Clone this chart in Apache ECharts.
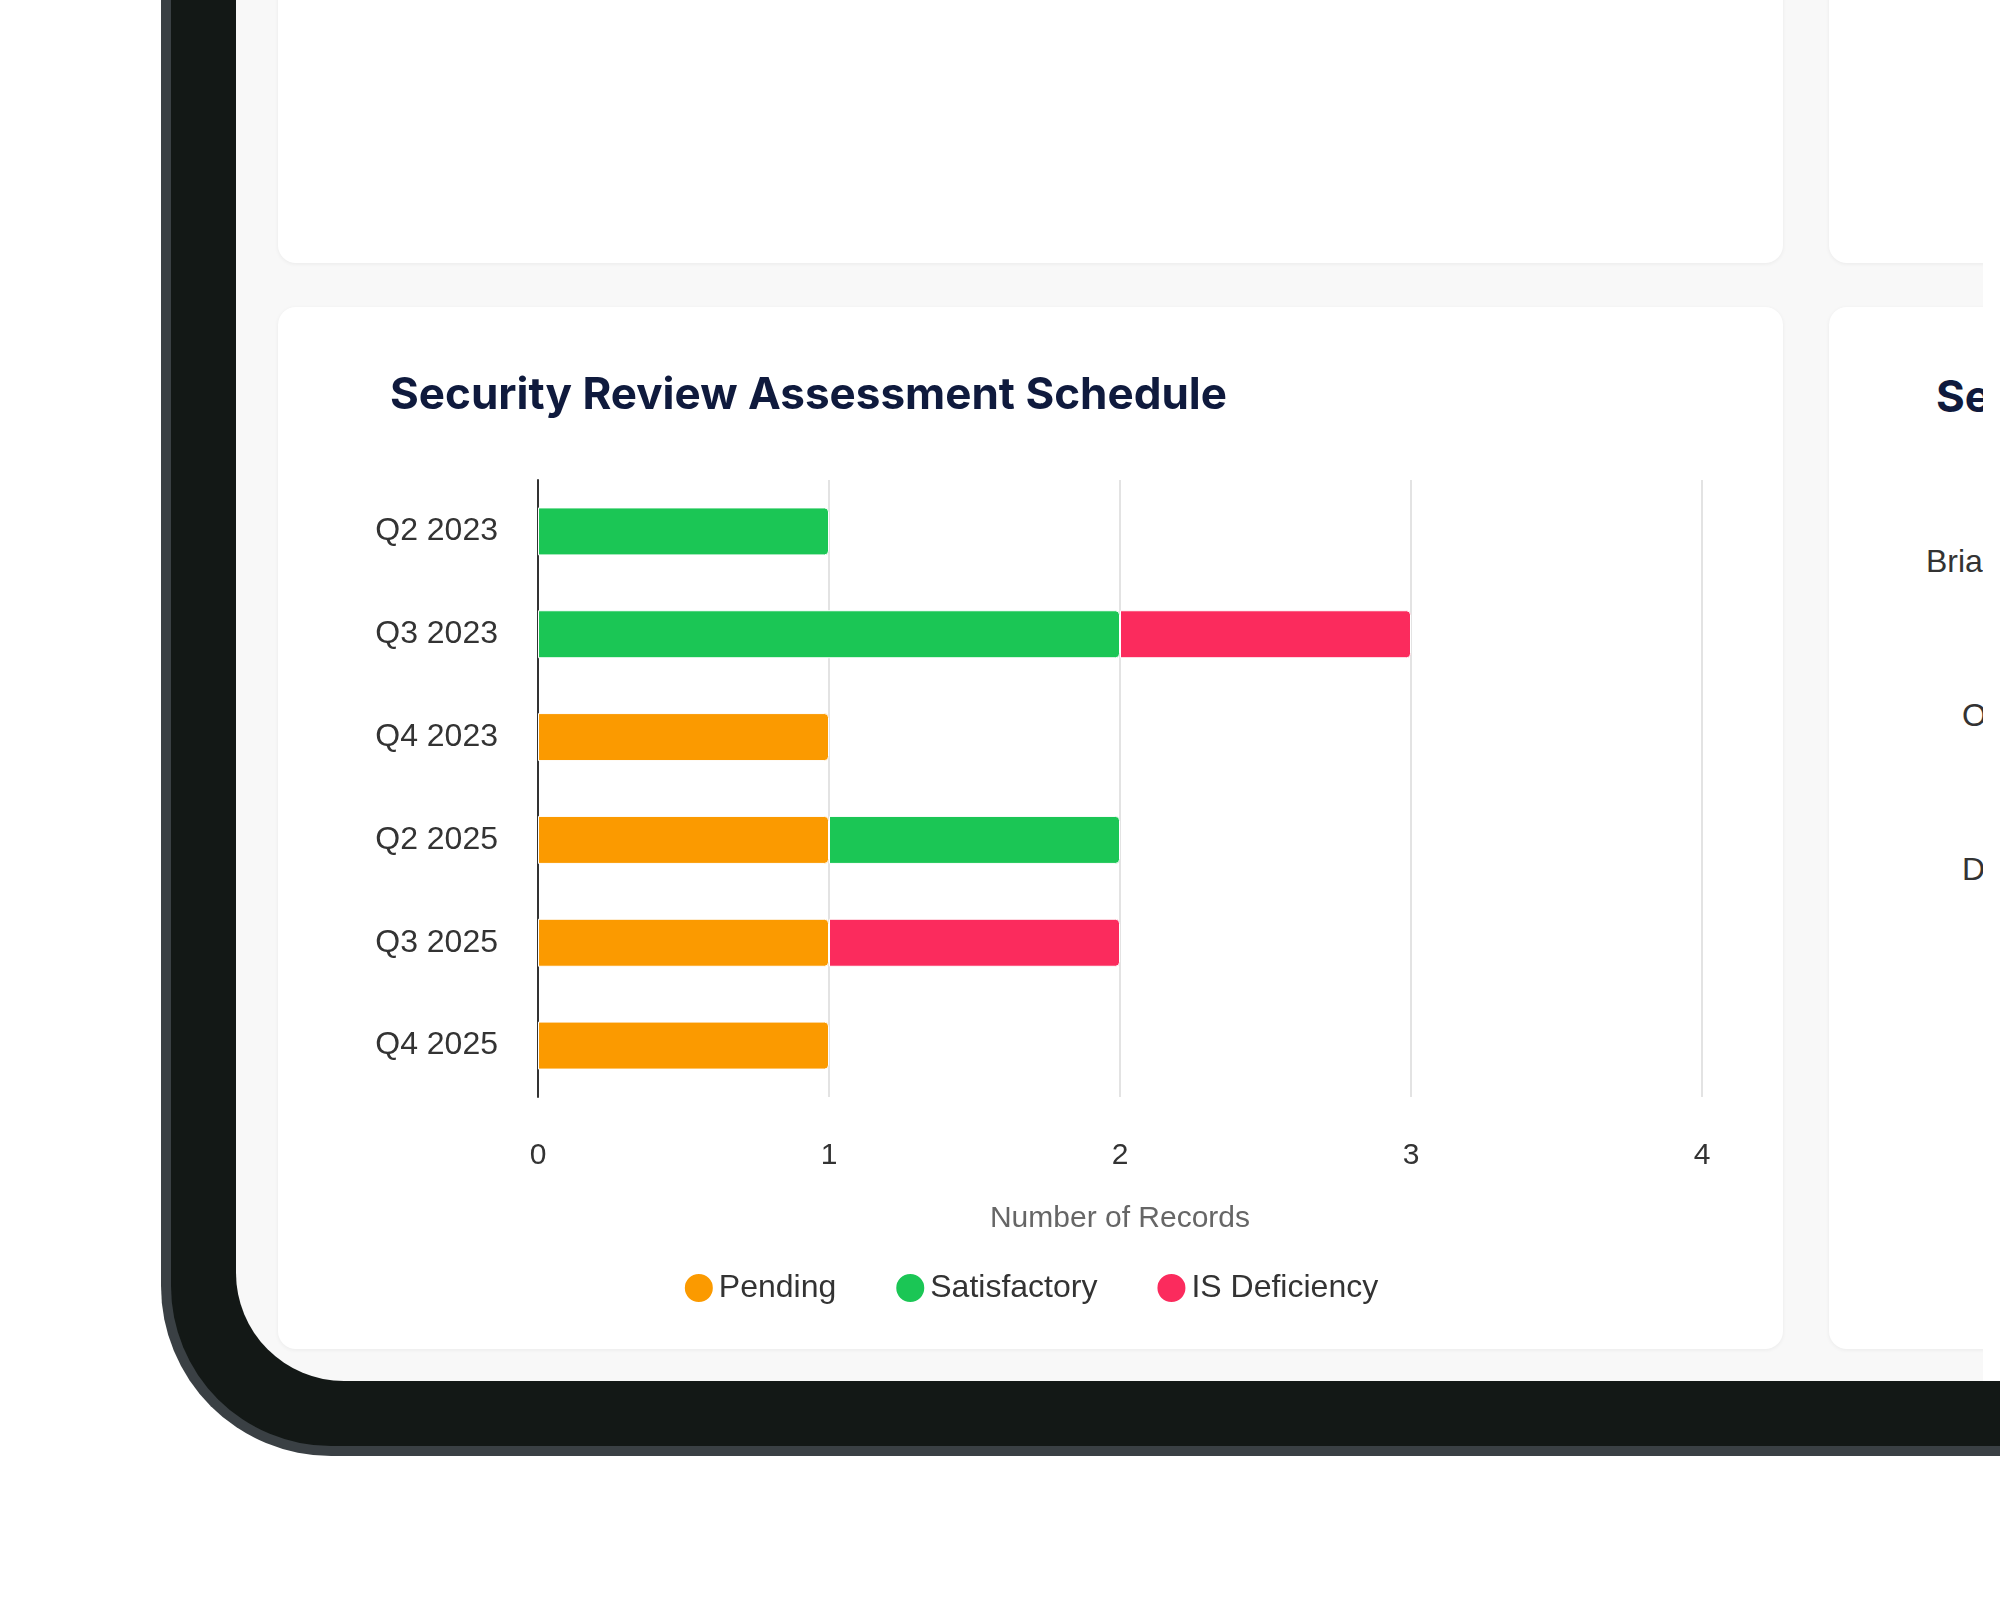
<!DOCTYPE html>
<html><head><meta charset="utf-8">
<script src="https://cdn.jsdelivr.net/npm/echarts@6/dist/echarts.min.js"></script>
<style>
html,body{margin:0;padding:0;width:2000px;height:1612px;background:#fff;overflow:hidden;font-family:"Liberation Sans",Arial,sans-serif}
#bezel{position:absolute;left:161px;top:-200px;width:2000px;height:1646px;background:#131816;border-left:10px solid #3a4044;border-bottom:10px solid #3a4044;border-bottom-left-radius:170px}
#screen{position:absolute;left:236px;top:-100px;width:1747px;height:1481px;background:#f8f8f8;border-bottom-left-radius:108px;overflow:hidden}
.card{position:absolute;background:#fff;border-radius:18px;box-shadow:0 1px 4px rgba(0,0,0,0.06)}
#wstrip{position:absolute;left:1983px;top:0;width:20px;height:1381px;background:#fff}
.rt{position:absolute;color:#333;font-size:32px;white-space:nowrap}
</style></head><body>
<div id="bezel"></div>
<div id="screen">
  <div class="card" style="left:42px;top:0;width:1505px;height:363px"></div>
  <div class="card" style="left:1593px;top:0;width:400px;height:363px"></div>
  <div class="card" id="card" style="left:42px;top:407px;width:1505px;height:1042px"><div id="chart" style="width:1505px;height:1042px"></div></div>
  <div class="card" style="left:1593px;top:407px;width:400px;height:1042px">
    <div class="rt" style="left:107px;top:62px;font-family:Inter,sans-serif;font-weight:700;font-size:44px;color:#0f1a3d">Se</div>
    <div class="rt" style="left:97px;top:236px">Bria</div>
    <div class="rt" style="left:133px;top:390px">O</div>
    <div class="rt" style="left:133px;top:544px">D</div>
  </div>
</div>
<div id="wstrip"></div>
<script>
const categories=["Q2 2023","Q3 2023","Q4 2023","Q2 2025","Q3 2025","Q4 2025"];
const pending=[0,0,1,1,1,1];
const satisfactory=[1,2,0,1,0,0];
const deficiency=[0,1,0,0,1,0];
const xTicks=[0,1,2,3,4];
const chart=echarts.init(document.getElementById('chart'));
const mk=(name,data,color)=>({name,type:'bar',stack:'s',data:data.map(v=>v||null),barWidth:48,
  itemStyle:{color,borderRadius:[0,4,4,0],borderColor:'#fff',borderWidth:1}});
chart.setOption({
  animation:false,
  title:{text:'Security Review Assessment Schedule',left:107,top:62,textStyle:{fontFamily:'Inter',fontWeight:700,fontSize:44,color:'#0f1a3d'}},
  grid:{left:260,right:81,top:173,height:617},
  legend:{bottom:40,left:'center',icon:'circle',itemWidth:30,itemHeight:30,itemGap:58,textStyle:{fontSize:32,color:'#333',fontFamily:'Liberation Sans'}},
  xAxis:{type:'value',min:xTicks[0],max:xTicks[xTicks.length-1],interval:1,
    name:'Number of Records',nameLocation:'middle',nameGap:107,nameTextStyle:{fontSize:30,color:'#666',fontFamily:'Liberation Sans'},
    axisLabel:{fontSize:30,color:'#333',margin:44,fontFamily:'Liberation Sans'},
    splitLine:{lineStyle:{color:'#e3e3e3',width:2}},axisLine:{show:false},axisTick:{show:false}},
  yAxis:{type:'category',data:categories,inverse:true,
    axisLine:{lineStyle:{color:'#333',width:2}},axisTick:{show:false},
    axisLabel:{fontSize:32,color:'#333',margin:40,fontFamily:'Liberation Sans'}},
  series:[mk('Pending',pending,'#fb9a00'),mk('Satisfactory',satisfactory,'#1bc655'),mk('IS Deficiency',deficiency,'#fb2b5d')]
});
</script>
</body></html>
